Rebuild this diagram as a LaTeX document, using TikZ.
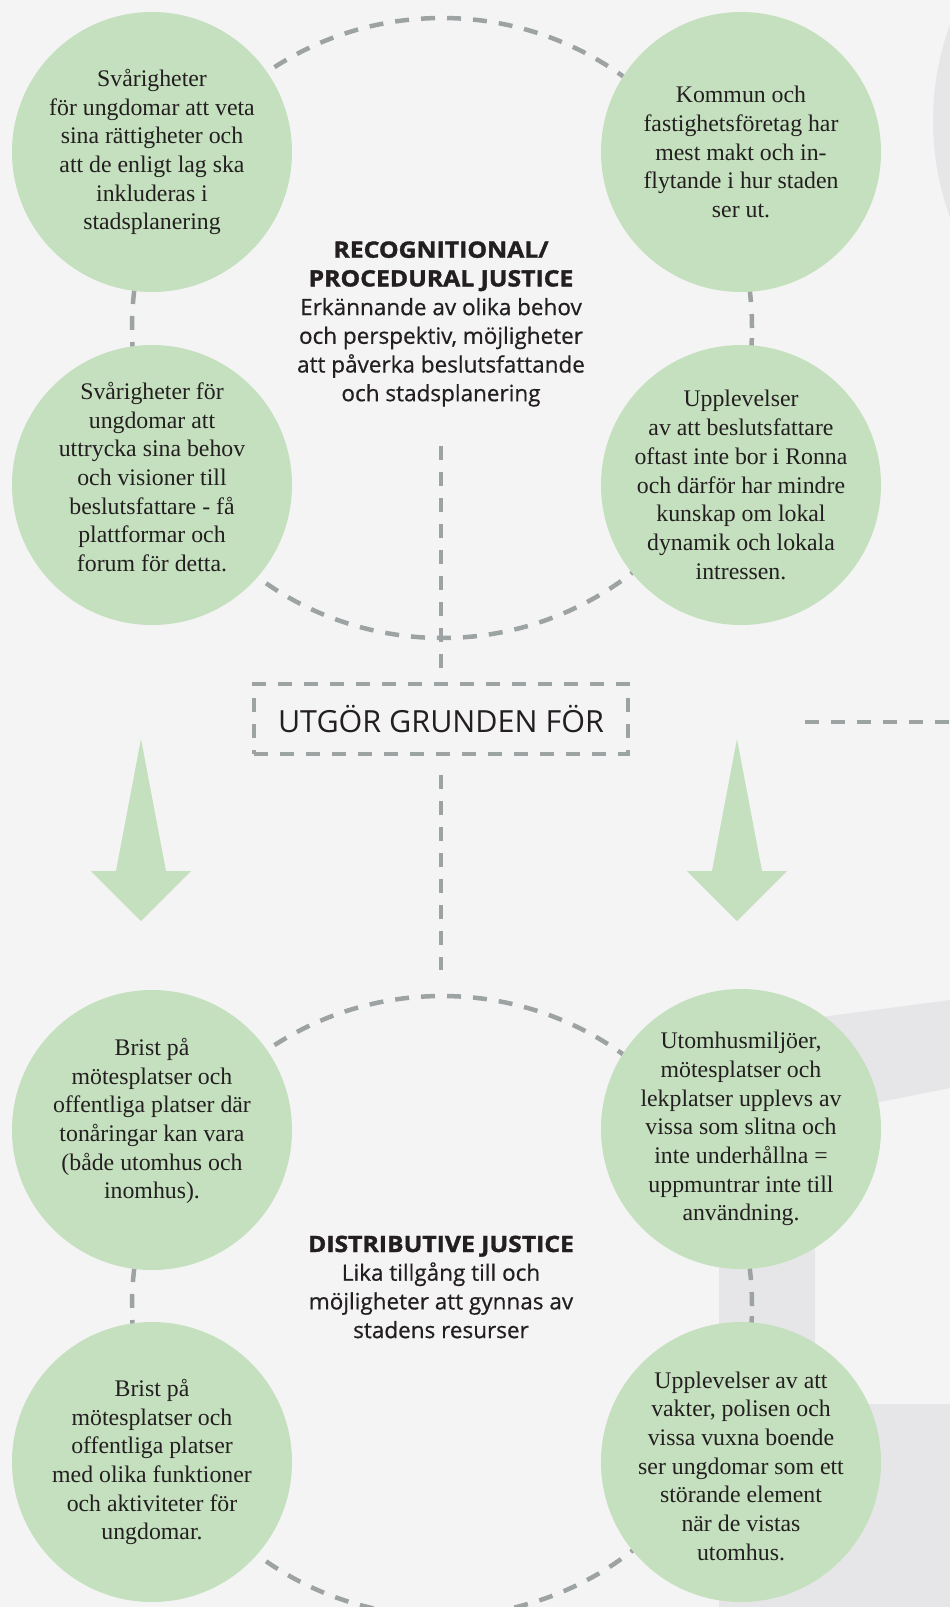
\documentclass[tikz,border=0pt]{standalone}
\usepackage{fontspec}
\setmainfont{Liberation Serif}
\newfontfamily\plexsans{Open Sans}
\newfontfamily\plexmedium{Open Sans}[UprightFeatures={FakeBold=0.6}, BoldFeatures={FakeBold=1.6, FakeStretch=1.1}]
\usetikzlibrary{positioning}

\definecolor{bggray}{HTML}{F4F4F4}
\definecolor{leafgreen}{HTML}{C5E0BE}
\definecolor{dashgray}{HTML}{9DA2A2}
\definecolor{roadgray}{HTML}{E6E6E8}
\definecolor{inkblack}{HTML}{231F20}

\tikzset{
	bubble/.style={circle, fill=leafgreen, minimum size=280pt, inner sep=0pt},
	bubbletext/.style={align=center, inner sep=0pt, text=inkblack, font=\fontsize{23.8}{28.7}\selectfont},
	dashline/.style={draw=dashgray, line width=4.5pt, dash pattern=on 14pt off 12pt},
	dashbox/.style={dashline, rectangle, minimum width=374pt, minimum height=70pt, text=inkblack, font=\plexsans\fontsize{30.5}{36}\selectfont},
	heading/.style={align=center, text=inkblack, font=\plexmedium\fontsize{22.5}{28.7}\selectfont},
}

\begin{document}
\begin{tikzpicture}[x=1pt, y=-1pt]
		\useasboundingbox (0,0) rectangle (950,1607);
		\clip (0,0) rectangle (950,1607);
		\fill[bggray] (0,0) rectangle (950,1607);
		% background shapes
		\fill[roadgray] (1213,121) circle (280pt);
		\fill[roadgray] (950,1000) -- (760,1025) -- (719,1100) -- (719,1404) -- (815,1404) -- (815,1115) -- (950,1088) -- cycle;
		\fill[roadgray] (719,1404) rectangle (950,1607);
		% dashed rings
		\draw[dashline] (442,328) circle (310pt);
		\draw[dashline] (442,1306) circle (310pt);
		% upper bubbles
		\node[bubble] (svar) at (152,152) {};
		\node[bubbletext] (svar text) at (svar.center) {Svårigheter\\för ungdomar att veta\\sina rättigheter och\\att de enligt lag ska\\inkluderas i\\stadsplanering};
		\node[bubble] (kommun) at (741,152) {};
		\node[bubbletext] (kommun text) at (kommun.center) {Kommun och\\fastighetsföretag har\\mest makt och in-\\flytande i hur staden\\ser ut.};
		\node[bubble] (uttryck) at (152,485) {};
		\node[bubbletext] (uttryck text) at ([yshift=8pt]uttryck.center) {Svårigheter för\\ungdomar att\\uttrycka sina behov\\och visioner till\\beslutsfattare - få\\plattformar och\\forum för detta.};
		\node[bubble] (beslut) at (741,485) {};
		\node[bubbletext] (beslut text) at (beslut.center) {Upplevelser\\av att beslutsfattare\\oftast inte bor i Ronna\\och därför har mindre\\kunskap om lokal\\dynamik och lokala\\intressen.};
		\node[heading] (recog) at (441,324) {\textbf{RECOGNITIONAL/}\\\textbf{PROCEDURAL JUSTICE}\\Erkännande av olika behov\\och perspektiv, möjligheter\\att påverka beslutsfattande\\och stadsplanering};
		% middle link
		\node[dashbox] (grund) at (441,719) {UTGÖR GRUNDEN FÖR};
		\coordinate (stemtop) at (441,446);
		\coordinate (stembot) at (441,970);
		\draw[dashline, shorten >=11pt] (stemtop) -- (grund.north);
		\draw[dashline, shorten <=19pt] (grund.south) -- (stembot);
		\coordinate (railstart) at (805,722);
		\coordinate (railend) at (950,722);
		\draw[dashline] (railstart) -- (railend);
		% green arrows
		\fill[leafgreen] (141,739) -- (166,871) -- (191,871) -- (141,921) -- (91,871) -- (116,871) -- cycle;
		\fill[leafgreen] (737,739) -- (762,871) -- (787,871) -- (737,921) -- (687,871) -- (712,871) -- cycle;
		% lower bubbles
		\node[bubble] (brist) at (152,1130) {};
		\node[bubbletext] (brist text) at ([yshift=9pt]brist.center) {Brist på\\mötesplatser och\\offentliga platser där\\tonåringar kan vara\\(både utomhus och\\inomhus).};
		\node[bubble] (utomhus) at (741,1129) {};
		\node[bubbletext] (utomhus text) at (utomhus.center) {Utomhusmiljöer,\\mötesplatser och\\lekplatser upplevs av\\vissa som slitna och\\inte underhållna =\\uppmuntrar inte till\\användning.};
		\node[bubble] (funktion) at (152,1462) {};
		\node[bubbletext] (funktion text) at (funktion.center) {Brist på\\mötesplatser och\\offentliga platser\\med olika funktioner\\och aktiviteter för\\ungdomar.};
		\node[bubble] (vakter) at (741,1462) {};
		\node[bubbletext] (vakter text) at ([yshift=-4pt]vakter.center) {Upplevelser av att\\vakter, polisen och\\vissa vuxna boende\\ser ungdomar som ett\\störande element\\när de vistas\\utomhus.};
		\node[heading] (distrib) at (441,1287) {\textbf{DISTRIBUTIVE JUSTICE}\\Lika tillgång till och\\möjligheter att gynnas av\\stadens resurser};
	\end{tikzpicture}
\end{document}
